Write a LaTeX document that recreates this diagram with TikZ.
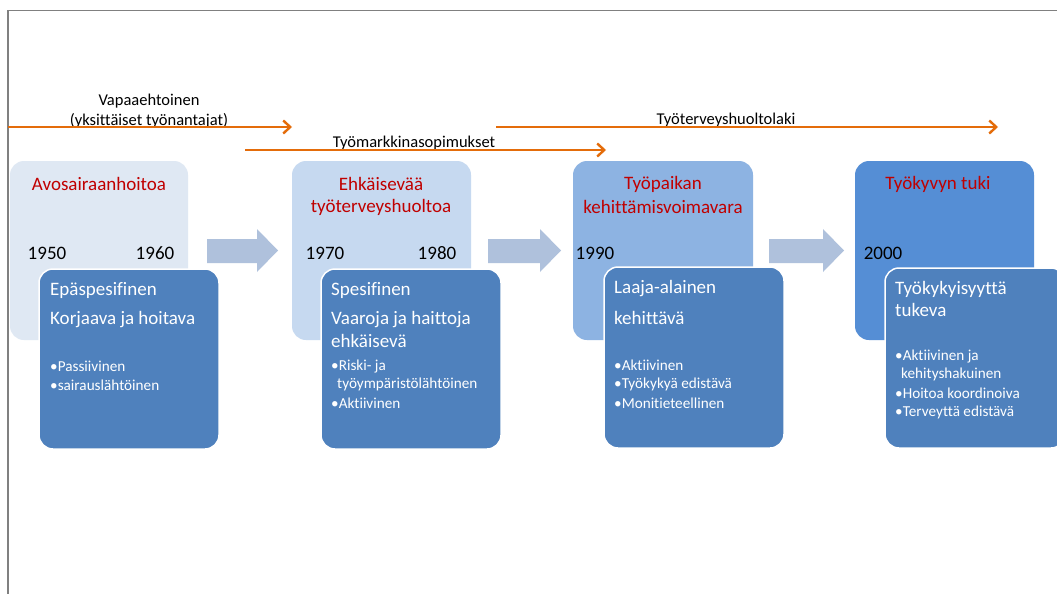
\documentclass[tikz,border=0pt]{standalone}
\usepackage{fontspec}
\setmainfont{Carlito}[Ligatures={NoCommon,NoContextual}]
\usetikzlibrary{arrows.meta}
\definecolor{frameGray}{HTML}{808080}
\definecolor{lawOrange}{HTML}{E46C0A}
\definecolor{eraA}{HTML}{DFE8F3}
\definecolor{eraB}{HTML}{C6D9F0}
\definecolor{eraC}{HTML}{8DB3E2}
\definecolor{eraD}{HTML}{558ED5}
\definecolor{traitBlue}{HTML}{4F81BD}
\definecolor{stepArrow}{HTML}{AFC1DC}
\definecolor{titleRed}{HTML}{C00000}
\tikzset{
  erabox/.style={rounded corners=14pt, draw=none},
  traitbox/.style={rounded corners=14pt, fill=traitBlue, draw=white, line width=1.5pt},
  lawline/.style={draw=lawOrange, line width=2.8pt, -{Straight Barb[length=7pt,width=13pt,line width=2.4pt]}},
  lawtext/.style={font=\fontsize{16.5}{19}\selectfont, text=black, inner sep=0pt},
  eratitle/.style={font=\fontsize{19}{22}\selectfont, text=titleRed, inner sep=0pt},
  yeartext/.style={font=\fontsize{19}{22}\selectfont, text=black, inner sep=0pt},
  headtext/.style={font=\fontsize{19}{22}\selectfont, text=white, inner sep=0pt, anchor=west},
  itemtext/.style={font=\fontsize{15.2}{18}\selectfont, text=white, inner sep=0pt, anchor=west},
  steparrow/.style={fill=stepArrow, draw=none}
}
\begin{document}
\begin{tikzpicture}[x=1pt,y=-1pt]
\useasboundingbox (0,0) rectangle (1057,594);
\fill[white] (0,0) rectangle (1057,594);

% outer frame (top and left edges)
\draw[frameGray, line width=1.5pt] (8,594) -- (8,10.5) -- (1057,10.5);

% era background panels
\fill[erabox, eraA] (10,161) rectangle (188,340);
\fill[erabox, eraB] (292,161) rectangle (471,340);
\fill[erabox, eraC] (573,161) rectangle (753,340);
\fill[erabox, eraD] (855,161) rectangle (1034,340);

% progression arrows between eras
\fill[steparrow] (207,239) -- (257,239) -- (257,229) -- (278,250.5) -- (257,272) -- (257,263) -- (207,263) -- cycle;
\fill[steparrow] (488,239) -- (540,239) -- (540,229) -- (561,250.5) -- (540,272) -- (540,263) -- (488,263) -- cycle;
\fill[steparrow] (769,239) -- (823,239) -- (823,229) -- (844,250.5) -- (823,272) -- (823,263) -- (769,263) -- cycle;

% era titles
\node[eratitle] (t1) at (99,184) {Avosairaanhoitoa};
\node[eratitle] (t2a) at (381,184) {Ehkäisevää};
\node[eratitle] (t2b) at (381,207) {työterveyshuoltoa};
\node[eratitle] (t3a) at (663,184) {Työpaikan};
\node[eratitle] (t3b) at (663,207) {kehittämisvoimavara};
\node[eratitle] (t4) at (938,184) {Työkyvyn tuki};

% decades
\node[yeartext] (y50) at (47,253) {1950};
\node[yeartext] (y60) at (155,253) {1960};
\node[yeartext] (y70) at (325,253) {1970};
\node[yeartext] (y80) at (437,253) {1980};
\node[yeartext] (y90) at (595,253) {1990};
\node[yeartext] (y00) at (883,253) {2000};

% characteristic boxes
\draw[traitbox] (39,269) rectangle (219,449);
\draw[traitbox] (321,269) rectangle (501,449);
\draw[traitbox] (604,267) rectangle (784,448);
\draw[traitbox] (885,268) rectangle (1065,448);

\node[headtext] (h1a) at (50,290) {Epäspesifinen};
\node[headtext] (h1b) at (50,320) {Korjaava ja hoitava};
\node[itemtext] (i1a) at (50,366) {•Passiivinen};
\node[itemtext] (i1b) at (50,385) {•sairauslähtöinen};

\node[headtext] (h2a) at (331,290) {Spesifinen};
\node[headtext] (h2b) at (331,320) {Vaaroja ja haittoja};
\node[headtext] (h2c) at (331,341) {ehkäisevä};
\node[itemtext] (i2a) at (331,367) {•Riski- ja};
\node[itemtext] (i2b) at (337,384) {työympäristölähtöinen};
\node[itemtext] (i2c) at (331,403) {•Aktiivinen};

\node[headtext] (h3a) at (614,289) {Laaja-alainen};
\node[headtext] (h3b) at (614,318) {kehittävä};
\node[itemtext] (i3a) at (614,365) {•Aktiivinen};
\node[itemtext] (i3b) at (614,384) {•Työkykyä edistävä};
\node[itemtext] (i3c) at (614,403) {•Monitieteellinen};

\node[headtext] (h4a) at (895,289) {Työkykyisyyttä};
\node[headtext] (h4b) at (895,310) {tukeva};
\node[itemtext] (i4a) at (895,357) {•Aktiivinen ja};
\node[itemtext] (i4b) at (901,374) {kehityshakuinen};
\node[itemtext] (i4c) at (895,393) {•Hoitoa koordinoiva};
\node[itemtext] (i4d) at (895,412) {•Terveyttä edistävä};

% legislation / agreement timelines
\node[lawtext] (l1a) at (149,101) {Vapaaehtoinen};
\node[lawtext] (l1b) at (149,121) {(yksittäiset työnantajat)};
\node[lawtext] (l2) at (414,143) {Työmarkkinasopimukset};
\node[lawtext] (l3) at (726,120) {Työterveyshuoltolaki};

\coordinate (a1s) at (8,127);
\coordinate (a1e) at (292,127);
\coordinate (a2s) at (245,150);
\coordinate (a2e) at (606,150);
\coordinate (a3s) at (496,127);
\coordinate (a3e) at (998,127);
\draw[lawline] (a1s) -- (a1e);
\draw[lawline] (a2s) -- (a2e);
\draw[lawline] (a3s) -- (a3e);
\end{tikzpicture}
\end{document}
